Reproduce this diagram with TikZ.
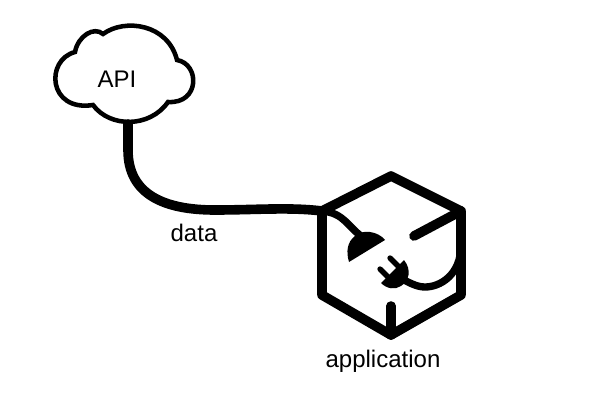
\documentclass[tikz,border=0pt]{standalone}
\usepackage{fontspec}
\setmainfont{Liberation Sans}
\tikzset{
	label text/.style={font=\fontsize{18}{20}\selectfont, inner sep=0pt},
	thick wire/.style={line width=7.2pt, line cap=round, line join=round},
	cord wire/.style={line width=5.5pt},
	solid part/.style={fill=black, draw=none}
}

\begin{document}
\begin{tikzpicture}[x=0.75pt, y=-0.75pt]
	
	\useasboundingbox (0,0) rectangle (600,400);
	
	\coordinate (hextop) at (391,176);
	\coordinate (hexrighttop) at (461,211);
	\coordinate (hexrightbottom) at (461,295);
	\coordinate (hexbottom) at (391,335);
	\coordinate (hexleftbottom) at (322,295);
	\coordinate (hexlefttop) at (322,211);
	\coordinate (hexinnerright) at (414,236);
	\coordinate (hexinnerbottom) at (391,306);
	\coordinate (cloudport) at (128,124);
	
	% cloud
	\draw[line width=3.4pt, fill=white] (75,52)
		.. controls (78,36) and (94,26) .. (103,34)
		.. controls (125,18) and (168,24) .. (177,60)
		.. controls (200,64) and (200,104) .. (168,102)
		.. controls (150,128) and (110,128) .. (93,105)
		.. controls (48,112) and (45,60) .. (75,52) -- cycle;
	\node[label text] (api) at (117,79) {API};
	
	% data line
	\draw[thick wire] (cloudport) -- (128,150)
		.. controls (128,195) and (165,210) .. (215,210)
		.. controls (255,210) and (290,207) .. (hexlefttop);
	\node[label text] (data) at (194,233) {data};
	
	% box
	\draw[thick wire] (hextop) -- (hexrighttop) -- (hexrightbottom) -- (hexbottom)
		-- (hexleftbottom) -- (hexlefttop) -- cycle;
	\draw[thick wire] (hexrighttop) -- (hexinnerright);
	\draw[thick wire] (hexbottom) -- (hexinnerbottom);
	\node[label text] (application) at (383,361) {application};
	
	% socket
	\draw[cord wire] (hexlefttop) .. controls (345,213) and (348,228) .. (364,238);
	\path[solid part] (385,240) .. controls (378,231) and (362,229) .. (355,236)
		.. controls (347,242) and (346,252) .. (349,262) -- cycle;
	
	% plug
	\draw[cord wire] (hexrighttop) -- (461,245)
		.. controls (461,275) and (440,287) .. (425,287)
		.. controls (417,287) and (410,283) .. (402,279);
	\path[solid part] (404,260) .. controls (412,270) and (409,281) .. (401,286)
		.. controls (395,290) and (387,289) .. (381,283) -- cycle;
	\draw[line width=4pt, line cap=round] (390,258) -- (400,268);
	\draw[line width=4pt, line cap=round] (380,269) -- (390,279);
	
	\end{tikzpicture}
\end{document}
